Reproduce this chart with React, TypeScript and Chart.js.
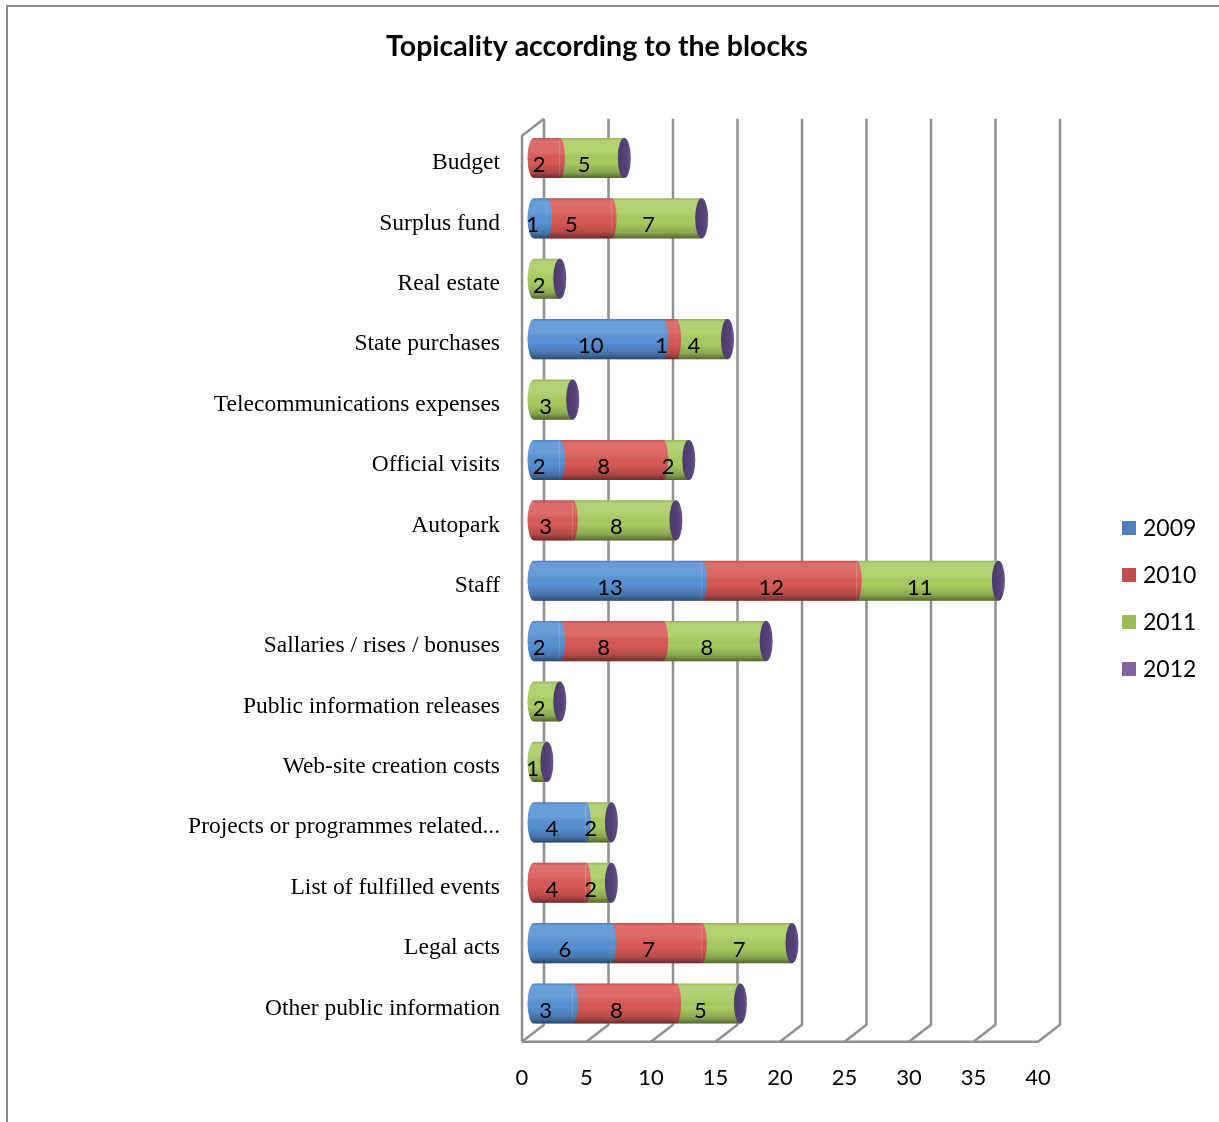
import React, { useEffect, useRef } from "react";
import { Chart, registerables } from "chart.js";

Chart.register(...registerables);

// ---- data ----
const categories = [
  "Budget",
  "Surplus fund",
  "Real estate",
  "State purchases",
  "Telecommunications expenses",
  "Official visits",
  "Autopark",
  "Staff",
  "Sallaries / rises / bonuses",
  "Public information releases",
  "Web-site creation costs",
  "Projects or programmes related...",
  "List of fulfilled events",
  "Legal acts",
  "Other public information",
];

const seriesNames = ["2009", "2010", "2011", "2012"];

const values2009 = [0, 1, 0, 10, 0, 2, 0, 13, 2, 0, 0, 4, 0, 6, 3];
const values2010 = [2, 5, 0, 1, 0, 8, 3, 12, 8, 0, 0, 0, 4, 7, 8];
const values2011 = [5, 7, 2, 4, 3, 2, 8, 11, 8, 2, 1, 2, 2, 7, 5];
const values2012 = [0, 0, 0, 0, 0, 0, 0, 0, 0, 0, 0, 0, 0, 0, 0];

const axisMin = 0;
const axisMax = 40;
const axisStep = 5;

const chartTitle = "Topicality according to the blocks";

// ---- styling ----
const barColors = ["#5790d3", "#d75a57", "#a9cb62", "#574479"];
const legendColors = ["#4f81bd", "#c0504d", "#9bbb59", "#8064a2"];

const W = 1219;
const H = 1122;

// perspective offsets of the front and back planes relative to the bar plane
const FRONT_DX = -12;
const FRONT_DY = 8;
const BACK_DX = 10;
const BACK_DY = -9;
const CAP_RX = 6.5;

const frame3d = {
  id: "frame3d",
  beforeDraw(chart: any) {
    const { ctx } = chart;
    ctx.save();
    ctx.fillStyle = "#ffffff";
    ctx.fillRect(0, 0, W, H);
    ctx.strokeStyle = "#8c8c8c";
    ctx.lineWidth = 2;
    ctx.beginPath();
    ctx.moveTo(7, H + 5);
    ctx.lineTo(7, 6);
    ctx.lineTo(W + 5, 6);
    ctx.stroke();
    ctx.restore();
  },
  beforeDatasetsDraw(chart: any) {
    const { ctx, chartArea } = chart;
    const xs = chart.scales.x;
    const top = chartArea.top;
    const bottom = chartArea.bottom;
    ctx.save();
    ctx.strokeStyle = "#8f8f8f";
    ctx.lineWidth = 2.5;
    ctx.lineCap = "butt";
    ctx.lineJoin = "miter";
    // back wall gridlines and floor diagonals
    for (let v = axisMin; v <= axisMax; v += axisStep) {
      const p = xs.getPixelForValue(v);
      ctx.beginPath();
      ctx.moveTo(p + BACK_DX, top + BACK_DY);
      ctx.lineTo(p + BACK_DX, bottom + BACK_DY);
      ctx.lineTo(p + FRONT_DX, bottom + FRONT_DY);
      ctx.stroke();
    }
    // front floor edge
    const p0 = xs.getPixelForValue(axisMin);
    const p1 = xs.getPixelForValue(axisMax);
    ctx.beginPath();
    ctx.moveTo(p0 + FRONT_DX, bottom + FRONT_DY);
    ctx.lineTo(p1 + FRONT_DX, bottom + FRONT_DY);
    ctx.stroke();
    // left wall front edge and top edge
    ctx.beginPath();
    ctx.moveTo(p0 + FRONT_DX, bottom + FRONT_DY);
    ctx.lineTo(p0 + FRONT_DX, top + FRONT_DY);
    ctx.lineTo(p0 + BACK_DX, top + BACK_DY);
    ctx.stroke();
    ctx.restore();
  },
  afterDatasetsDraw(chart: any) {
    const { ctx } = chart;
    const datasets = chart.data.datasets;
    const nSeg = datasets.length - 1; // last series forms the end cap
    const metas = datasets.map((_: any, k: number) => chart.getDatasetMeta(k));

    ctx.save();
    for (let i = 0; i < categories.length; i++) {
      const els = metas.map((m: any) => m.data[i].getProps(["x", "y", "base", "height"], true));
      const y = els[0].y;
      const ry = els[0].height / 2;
      const active: number[] = [];
      for (let k = 0; k < nSeg; k++) if ((datasets[k].data[i] as number) > 0) active.push(k);
      const startX = els[0].base;
      const endX = els[nSeg].x;
      if (active.length) {
        // rounded left end
        const k0 = active[0];
        ctx.fillStyle = barColors[k0];
        ctx.beginPath();
        ctx.ellipse(startX, y, CAP_RX, ry, 0, Math.PI / 2, (3 * Math.PI) / 2);
        ctx.closePath();
        ctx.fill();
        // curved joints between segments
        for (let a = 0; a < active.length - 1; a++) {
          const k = active[a];
          ctx.fillStyle = barColors[k];
          ctx.beginPath();
          ctx.ellipse(els[k].x, y, CAP_RX * 0.8, ry, 0, -Math.PI / 2, Math.PI / 2);
          ctx.closePath();
          ctx.fill();
        }
        // cylinder shading
        const g = ctx.createLinearGradient(0, y - ry, 0, y + ry);
        g.addColorStop(0, "rgba(0,0,0,0.12)");
        g.addColorStop(0.07, "rgba(255,255,255,0.12)");
        g.addColorStop(0.35, "rgba(255,255,255,0.10)");
        g.addColorStop(0.6, "rgba(0,0,0,0)");
        g.addColorStop(0.85, "rgba(0,0,0,0.18)");
        g.addColorStop(1, "rgba(0,0,0,0.5)");
        ctx.fillStyle = g;
        ctx.beginPath();
        ctx.moveTo(startX, y - ry);
        ctx.lineTo(endX, y - ry);
        ctx.lineTo(endX, y + ry);
        ctx.lineTo(startX, y + ry);
        ctx.ellipse(startX, y, CAP_RX, ry, 0, Math.PI / 2, (3 * Math.PI) / 2);
        ctx.closePath();
        ctx.fill();
      }
      // end cap in the last series colour
      const cg = ctx.createLinearGradient(endX - CAP_RX, 0, endX + CAP_RX, 0);
      cg.addColorStop(0, "#4a3a6b");
      cg.addColorStop(0.7, barColors[nSeg]);
      cg.addColorStop(1, "#6a5890");
      ctx.fillStyle = cg;
      ctx.beginPath();
      ctx.ellipse(endX, y, CAP_RX, ry, 0, 0, Math.PI * 2);
      ctx.fill();

      // value labels
      ctx.fillStyle = "#000000";
      ctx.font = "22px Lato";
      ctx.textAlign = "center";
      ctx.textBaseline = "middle";
      for (const k of active) {
        const cx = (els[k].x + els[k].base) / 2 + FRONT_DX * 0.65;
        ctx.fillText(String(datasets[k].data[i]), cx, y + 7);
      }
    }

    // legend
    ctx.font = "23px Lato";
    ctx.textAlign = "left";
    ctx.textBaseline = "middle";
    const lx = chart.chartArea.right + 72;
    for (let k = 0; k < datasets.length; k++) {
      const ly = 528 + k * 47;
      ctx.fillStyle = legendColors[k];
      ctx.fillRect(lx, ly - 7, 14, 14);
      ctx.fillStyle = "#000000";
      ctx.fillText(datasets[k].label, lx + 21, ly + 1);
    }
    ctx.restore();
  },
};

export default function App() {
  const canvasRef = useRef<HTMLCanvasElement | null>(null);

  useEffect(() => {
    if (!canvasRef.current) return;
    const seriesValues = [values2009, values2010, values2011, values2012];
    const chart = new Chart(canvasRef.current, {
      type: "bar",
      data: {
        labels: categories,
        datasets: seriesNames.map((name, k) => ({
          label: name,
          data: seriesValues[k],
          backgroundColor: barColors[k],
          borderWidth: 0,
          barPercentage: 0.665,
          categoryPercentage: 1,
        })),
      },
      options: {
        indexAxis: "y",
        responsive: false,
        animation: false,
        devicePixelRatio: 1,
        layout: { padding: { left: 144, right: 169, top: 0, bottom: 0 } },
        plugins: {
          legend: { display: false },
          tooltip: { enabled: false },
          title: {
            display: true,
            text: chartTitle,
            color: "#000000",
            font: { family: "Lato", size: 28.5, weight: "bold" },
            padding: { top: 29.5, bottom: 64.1 },
          },
        },
        scales: {
          x: {
            type: "linear",
            stacked: true,
            min: axisMin,
            max: axisMax,
            grid: { display: false, drawTicks: false },
            border: { display: false },
            ticks: {
              stepSize: axisStep,
              color: "#000000",
              font: { family: "Lato", size: 22 },
              padding: 31,
              labelOffset: FRONT_DX,
            },
            afterFit(scale: any) {
              scale.height = 88.3;
            },
          },
          y: {
            type: "category",
            stacked: true,
            grid: { display: false, drawTicks: false },
            border: { display: false },
            ticks: {
              color: "#000000",
              font: { family: "Liberation Serif", size: 23.5 },
              padding: 34,
              labelOffset: 5,
              autoSkip: false,
            },
            afterFit(scale: any) {
              scale.width = 390;
            },
          },
        },
      },
      plugins: [frame3d],
    });
    return () => chart.destroy();
  }, []);

  return (
    <div style={{ position: "absolute", left: 0, top: 0, width: W, height: H, overflow: "hidden" }}>
      <canvas ref={canvasRef} width={W} height={H} style={{ display: "block" }} />
    </div>
  );
}
